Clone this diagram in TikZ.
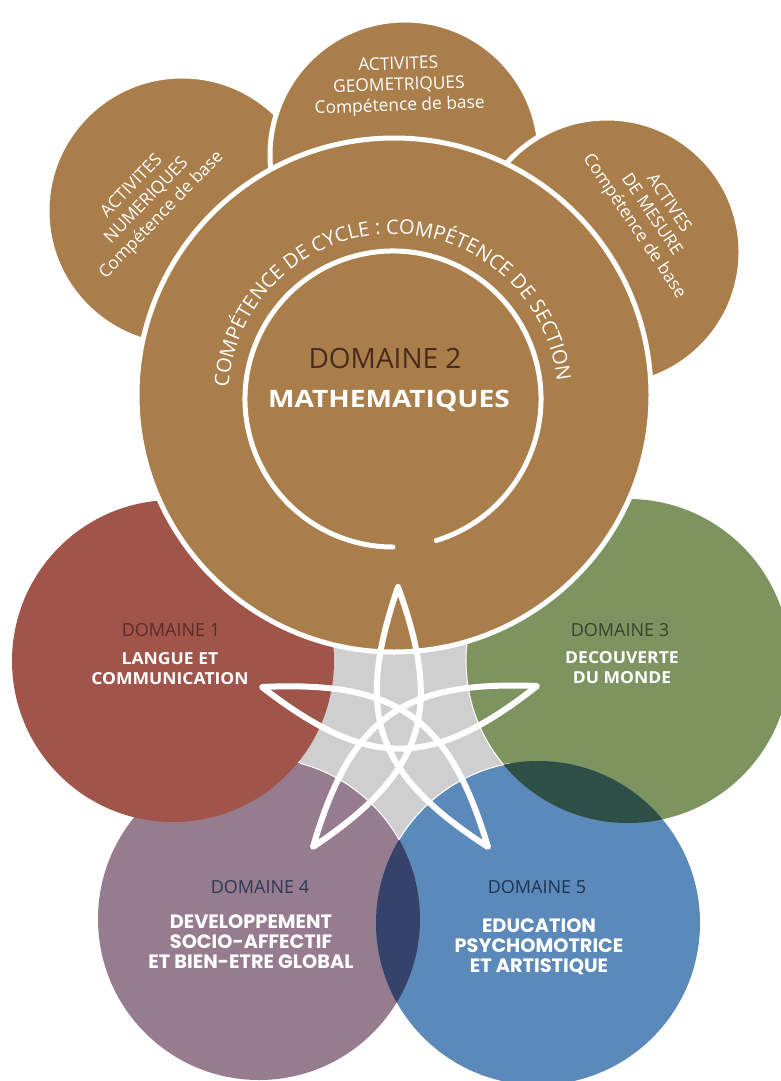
\documentclass[tikz,border=0pt]{standalone}
\usepackage{fontspec}
\setmainfont{Open Sans}
\newfontfamily\popfont{Poppins}
\newfontfamily\widebold[FakeStretch=1.06]{Open Sans}
\newfontfamily\mathbold[FakeStretch=1.17]{Open Sans}
\usetikzlibrary{decorations.text}

\definecolor{matbrown}{HTML}{A97E4B}
\definecolor{dom1col}{HTML}{A0544A}
\definecolor{dom3col}{HTML}{7E9460}
\definecolor{dom4col}{HTML}{977B8E}
\definecolor{dom5col}{HTML}{5B89B9}
\definecolor{dom35col}{HTML}{2E4F45}
\definecolor{dom45col}{HTML}{36426A}
\definecolor{midgray}{HTML}{CFCFCF}
\definecolor{dom1txt}{HTML}{5A2C25}
\definecolor{dom2txt}{HTML}{4A2A1C}
\definecolor{dom3txt}{HTML}{34432D}
\definecolor{dom4txt}{HTML}{2A3A55}
\definecolor{dom5txt}{HTML}{1F3450}

\newcommand{\arcfont}{\fontsize{15}{17}\selectfont}

\tikzset{
  ring/.style={fill=matbrown, draw=white, line width=3.75pt},
  seam/.style={draw=white, line width=0.8pt},
  starline/.style={draw=white, line width=4.5pt, line join=round, line cap=round},
  petal/.style={bend right=38, looseness=1.25},
  satlabel/.style={text=white, align=center, inner sep=0pt, font=\fontsize{13}{15.5}\selectfont},
  domlabel/.style={align=center, inner sep=0pt, font=\fontsize{13.5}{16}\selectfont},
  domtitle/.style={text=white, align=center, inner sep=0pt, font=\widebold\bfseries\fontsize{12.4}{15}\selectfont},
  domtitlewide/.style={text=white, align=center, inner sep=0pt, font=\popfont\bfseries\fontsize{14.5}{15}\selectfont}
}

\begin{document}
\begin{tikzpicture}[x=0.75pt, y=0.75pt]
\clip (0,0) rectangle (781,-1081);
% centres
\coordinate (dom1) at (173,-661);
\coordinate (dom2) at (394,-395);
\coordinate (dom3) at (628,-661);
\coordinate (dom4) at (259,-919);
\coordinate (dom5) at (538,-923);
\coordinate (satnum) at (182,-211);
\coordinate (satgeo) at (405,-155);
\coordinate (satmes) at (607,-252);
\coordinate (core) at (393,-399);
% grey gap between the domains
\fill[midgray] (300,-600) rectangle (510,-870);
\fill[dom3col] (dom3) circle[radius=162];
\begin{scope}
\clip (300,-600) rectangle (510,-870);
\draw[seam] (dom3) circle[radius=162];
\end{scope}
\fill[dom4col] (dom4) circle[radius=161];
\begin{scope}
\clip (300,-600) rectangle (510,-870);
\draw[seam] (dom4) circle[radius=161];
\end{scope}
\fill[dom1col] (dom1) circle[radius=161];
\fill[dom5col] (dom5) circle[radius=162];
\begin{scope}
\clip (300,-600) rectangle (510,-839);
\draw[seam] (dom5) circle[radius=162];
\end{scope}
\begin{scope}
\clip (dom5) circle[radius=162];
\fill[dom35col] (dom3) circle[radius=162];
\fill[dom45col] (dom4) circle[radius=161];
\end{scope}
% brown circles
\filldraw[ring] (satnum) circle[radius=135];
\filldraw[ring] (satgeo) circle[radius=135];
\filldraw[ring] (satmes) circle[radius=134];
\filldraw[ring] (dom2) circle[radius=257];
\draw[white, line width=3.75pt, line cap=round] (core) ++(-73:148) arc[start angle=-73, end angle=270, radius=148];
\path[decorate, decoration={text along path, text color=white, text align=center,
  text={|\arcfont|COMPÉTENCE DE CYCLE : COMPÉTENCE DE SECTION}}]
  (core) ++(174:165) arc[start angle=174, end angle=8, radius=165];
% star
\coordinate (tipT) at (398,-587);
\coordinate (tipL) at (262,-687);
\coordinate (tipR) at (537,-686);
\coordinate (tipBL) at (313,-847);
\coordinate (tipBR) at (488,-847);
\draw[starline] (tipT) to[petal] (tipBR) to[petal] (tipL) to[petal] (tipR) to[petal] (tipBL) to[petal] (tipT);
% texts
\node[satlabel, rotate=46] (numtxt) at (147,-201) {ACTIVITES\\NUMERIQUES\\Compétence de base};
\node[satlabel, rotate=2] (geotxt) at (399,-86) {ACTIVITES\\GEOMETRIQUES\\Compétence de base};
\node[satlabel, rotate=-56] (mestxt) at (651,-215) {ACTIVES\\DE MESURE\\Compétence de base};
\node[domlabel, text=dom2txt, font=\fontsize{21}{24}\selectfont] (d2lab) at (385,-358) {DOMAINE 2};
\node[text=white, inner sep=0pt, font=\mathbold\bfseries\fontsize{18}{22}\selectfont] (d2tit) at (389,-401) {MATHEMATIQUES};
\node[domlabel, text=dom1txt] (d1lab) at (171,-630) {DOMAINE 1};
\node[domtitle] (d1tit) at (170,-669) {LANGUE ET\\COMMUNICATION};
\node[domlabel, text=dom3txt] (d3lab) at (620,-630) {DOMAINE 3};
\node[domtitle] (d3tit) at (622,-668) {DECOUVERTE\\DU MONDE};
\node[domlabel, text=dom4txt] (d4lab) at (260,-887) {DOMAINE 4};
\node[domtitlewide] (d4tit) at (251,-942) {DEVELOPPEMENT\\SOCIO-AFFECTIF\\ET BIEN-ETRE GLOBAL};
\node[domlabel, text=dom5txt] (d5lab) at (537,-887) {DOMAINE 5};
\node[domtitlewide] (d5tit) at (539,-947) {EDUCATION\\PSYCHOMOTRICE\\ET ARTISTIQUE};
\end{tikzpicture}
\end{document}
